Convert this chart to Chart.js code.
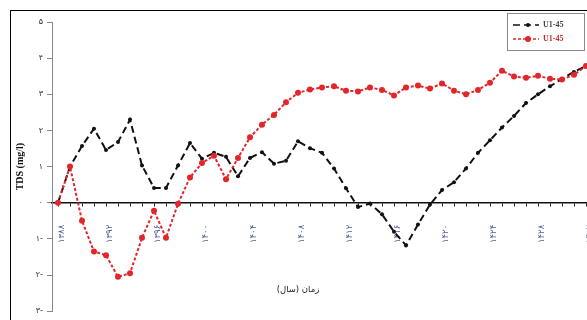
<!DOCTYPE html>
<html>
<head>
<meta charset="utf-8">
<script src="https://cdn.jsdelivr.net/npm/chart.js@4.4.1/dist/chart.umd.min.js"></script>
<style>
  html, body { margin: 0; padding: 0; background: #fff; overflow: hidden; width: 587px; height: 320px; }
  #wrap { position: relative; width: 600px; height: 320px; }
  #frame { position: absolute; left: 10px; top: 10px; width: 700px; height: 400px; border: 1.5px solid #000; pointer-events: none; }
  canvas { position: absolute; left: 0; top: 0; }
</style>
</head>
<body>
<div id="wrap">
  <canvas id="c" width="600" height="320"></canvas>
  <div id="frame"></div>
</div>
<script>
// Years of the simulation period (solar hijri), one value per year
const years = [];
for (let y = 1388; y <= 1432; y++) years.push(y);

// TDS change (mg/l) for the two well scenarios
const seriesBlack = [0, 1.0, 1.57, 2.05, 1.46, 1.68, 2.3, 1.03, 0.41, 0.41,
  1.03, 1.65, 1.22, 1.38, 1.27, 0.73, 1.24, 1.4, 1.08, 1.16,
  1.7, 1.51, 1.38, 0.95, 0.4, -0.12, -0.02, -0.32, -0.8, -1.18,
  -0.6, -0.05, 0.35, 0.57, 0.95, 1.38, 1.73, 2.08, 2.4, 2.76,
  3.0, 3.22, 3.43, 3.62, 3.78];
const seriesRed = [0, 1.0, -0.5, -1.35, -1.45, -2.05, -1.95, -0.97, -0.22, -0.97,
  -0.03, 0.7, 1.1, 1.3, 0.65, 1.24, 1.81, 2.16, 2.43, 2.78,
  3.04, 3.13, 3.19, 3.22, 3.1, 3.08, 3.19, 3.12, 2.97, 3.19,
  3.24, 3.16, 3.3, 3.1, 3.0, 3.12, 3.32, 3.65, 3.49, 3.46,
  3.51, 3.43, 3.41, 3.54, 3.78];
const seriesNames = ['U1-45', 'U1-45'];

// Y tick values and x label step
const yTicks = [-3, -2, -1, 0, 1, 2, 3, 4, 5];
const labelEvery = 4;

const faDigits = '۰۱۲۳۴۵۶۷۸۹';
function toFa(n) {
  return String(Math.abs(n)).replace(/\d/g, d => faDigits[+d]) + (n < 0 ? '-' : '');
}

const legendPlugin = {
  id: 'boxLegend',
  afterDraw(chart) {
    const ctx = chart.ctx;
    const ca = chart.chartArea;
    const bx = ca.right - 85, by = ca.top - 9, bw = 77, bh = 37;
    ctx.save();
    ctx.fillStyle = '#fff';
    ctx.fillRect(bx, by, bw, bh);
    ctx.strokeStyle = '#8a8a8a';
    ctx.lineWidth = 1;
    ctx.strokeRect(bx + 0.5, by + 0.5, bw, bh);
    chart.data.datasets.forEach((ds, i) => {
      const y = by + 12 + i * 14;
      ctx.strokeStyle = ds.borderColor;
      ctx.lineWidth = 1.5;
      ctx.setLineDash(ds.borderDash);
      ctx.beginPath();
      ctx.moveTo(bx + 6, y);
      ctx.lineTo(bx + 32, y);
      ctx.stroke();
      ctx.setLineDash([]);
      ctx.fillStyle = ds.borderColor;
      ctx.beginPath();
      ctx.arc(bx + 21, y, ds.pointRadius, 0, Math.PI * 2);
      ctx.fill();
      ctx.font = 'bold 8px "Liberation Serif"';
      ctx.textBaseline = 'middle';
      ctx.textAlign = 'left';
      ctx.fillStyle = i === 0 ? '#444' : '#d0262b';
      ctx.fillText(ds.label, bx + 36, y);
    });
    ctx.restore();
  }
};

const xTitlePlugin = {
  id: 'xTitle',
  afterDraw(chart) {
    const ctx = chart.ctx;
    const xs = chart.scales.x, ys = chart.scales.y;
    ctx.save();
    ctx.font = '8.5px "DejaVu Sans"';
    ctx.fillStyle = '#222';
    ctx.textAlign = 'center';
    ctx.textBaseline = 'middle';
    ctx.fillText('زمان (سال)', xs.getPixelForValue(20), ys.getPixelForValue(-2.4));
    ctx.restore();
  }
};

new Chart(document.getElementById('c'), {
  type: 'line',
  data: {
    labels: years,
    datasets: [
      {
        label: seriesNames[0],
        data: seriesBlack,
        borderColor: '#111',
        backgroundColor: '#111',
        borderWidth: 2,
        borderDash: [7, 4],
        pointRadius: 2,
        pointBackgroundColor: '#111',
        pointBorderWidth: 0,
        tension: 0,
        order: 1
      },
      {
        label: seriesNames[1],
        data: seriesRed,
        borderColor: '#e3262b',
        backgroundColor: '#e3262b',
        borderWidth: 2,
        borderDash: [3, 2],
        pointRadius: 3,
        pointBackgroundColor: '#e3262b',
        pointBorderWidth: 0,
        tension: 0,
        order: 0
      }
    ]
  },
  options: {
    responsive: false,
    animation: false,
    devicePixelRatio: 1,
    layout: { padding: { left: 0, top: 22, right: 8, bottom: 2 } },
    plugins: { legend: { display: false }, tooltip: { enabled: false } },
    scales: {
      x: {
        type: 'category',
        offset: true,
        position: { y: 0 },
        afterFit: s => { s.paddingLeft = 0; s.paddingRight = 0; },
        grid: { drawOnChartArea: false, drawTicks: true, tickLength: 3, color: '#222', lineWidth: 1 },
        border: { color: '#111', width: 1.5 },
        ticks: {
          autoSkip: false,
          minRotation: 90,
          maxRotation: 90,
          padding: 19,
          labelOffset: 4,
          color: '#4b5a9c',
          font: { family: 'DejaVu Sans', size: 8.5 },
          callback: (v, i) => (i % labelEvery === 0 ? toFa(years[i]) : '')
        }
      },
      y: {
        min: -3,
        max: 5,
        afterBuildTicks: s => { s.ticks = yTicks.map(v => ({ value: v })); },
        afterFit: s => { s.width = 52; },
        grid: { drawOnChartArea: false, drawTicks: true, tickLength: 5, color: '#888' },
        border: { color: '#888', width: 1 },
        ticks: {
          padding: 4,
          color: '#333',
          font: { family: 'DejaVu Sans', size: 8 },
          callback: v => toFa(v)
        },
        title: {
          display: true,
          text: 'TDS (mg/l)',
          color: '#111',
          font: { family: 'Liberation Serif', size: 10, weight: 'bold' },
          padding: { top: 14, bottom: 0 }
        }
      }
    }
  },
  plugins: [legendPlugin, xTitlePlugin]
});
</script>
</body>
</html>
